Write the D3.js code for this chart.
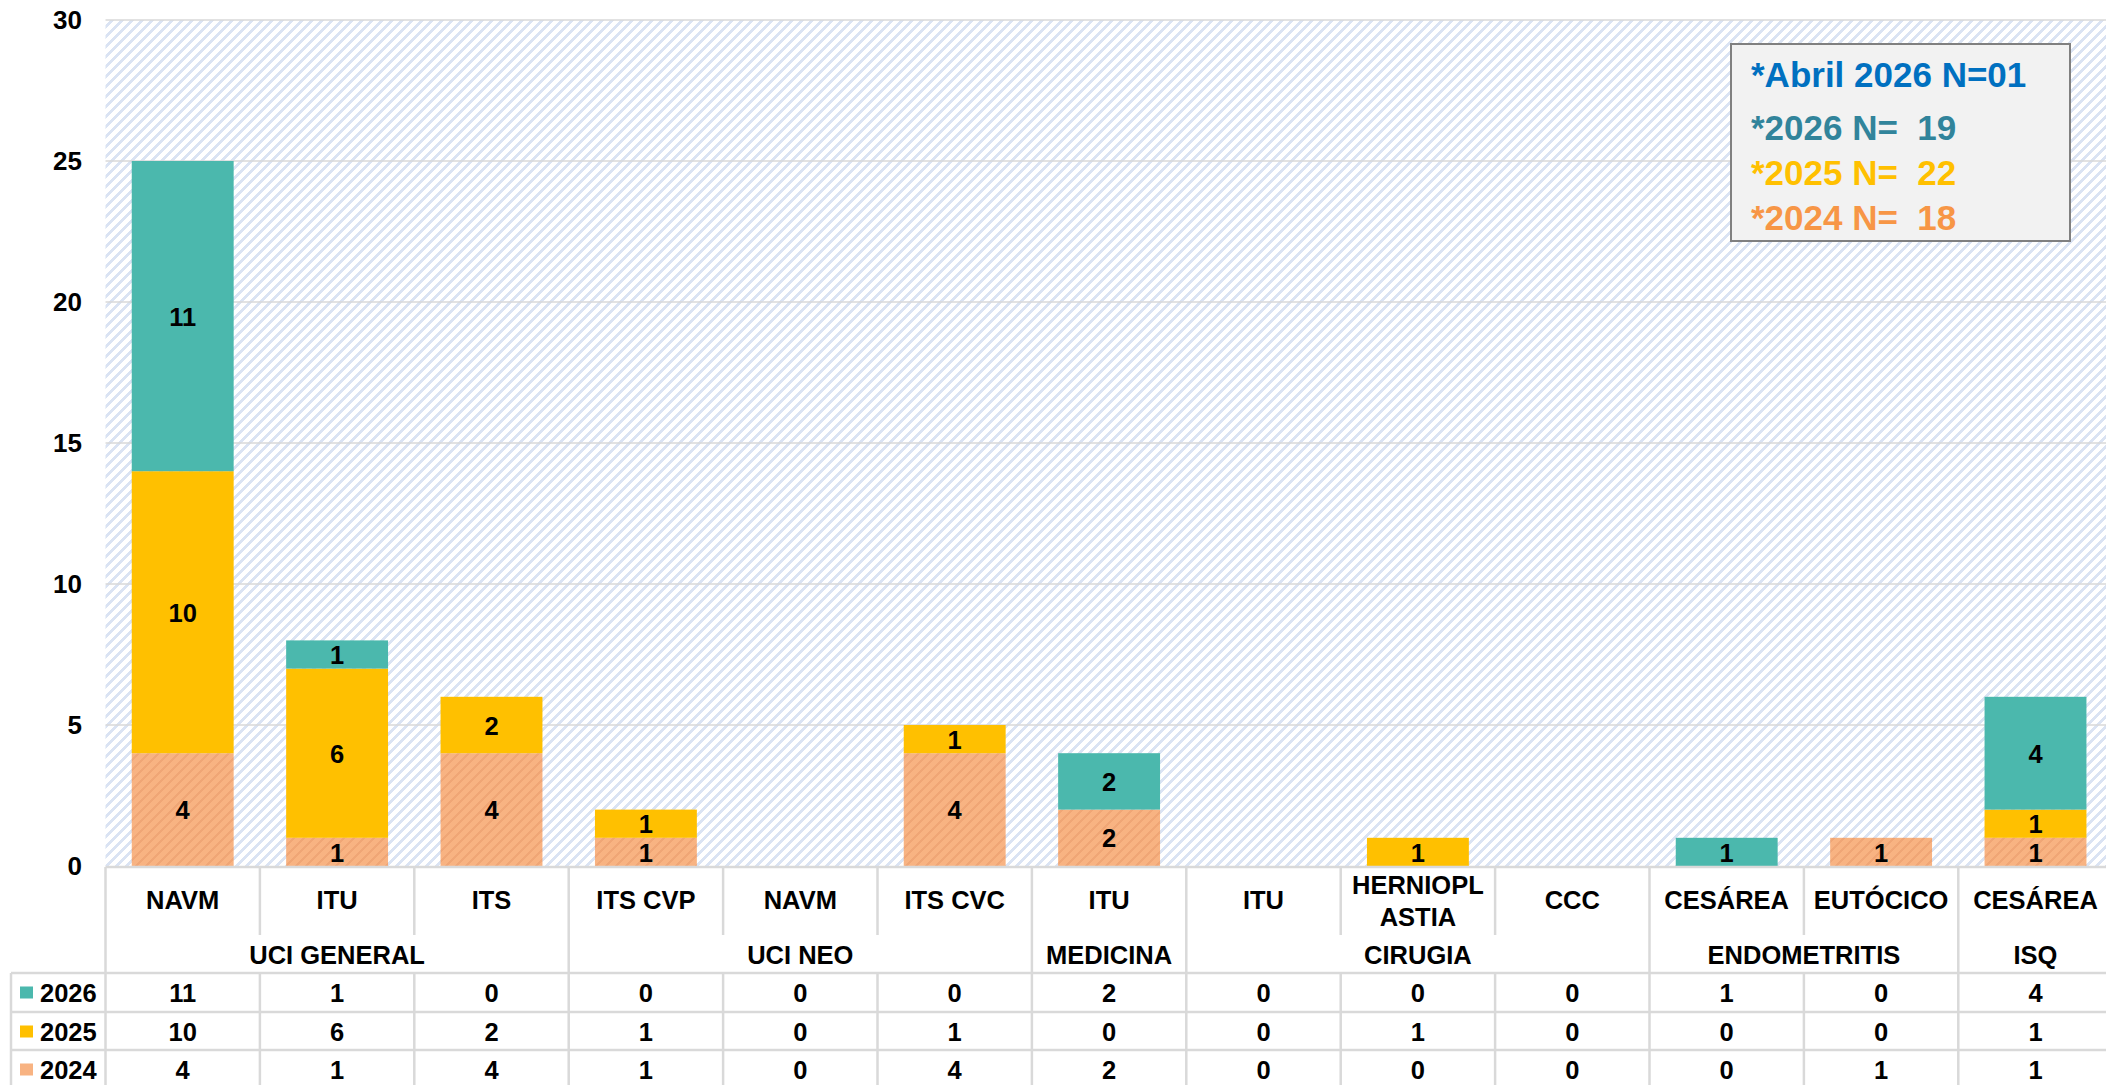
<!DOCTYPE html>
<html>
<head>
<meta charset="utf-8">
<script src="https://cdn.jsdelivr.net/npm/d3@7"></script>
<style>
    body { margin: 0; background: #fff; }
    text { font-family: "Liberation Sans", Arial, sans-serif; font-weight: bold; }
</style>
</head>
<body>
<div id="chart-area"></div>
<script>

// Data
var categories = ["NAVM", "ITU", "ITS", "ITS CVP", "NAVM", "ITS CVC", "ITU", "ITU",
    "HERNIOPLASTIA", "CCC", "CESÁREA", "EUTÓCICO", "CESÁREA"];
var groupNames = ["UCI GENERAL", "UCI NEO", "MEDICINA", "CIRUGIA", "ENDOMETRITIS", "ISQ"];
var groupSpans = [3, 3, 1, 3, 2, 1];
var years = ["2026", "2025", "2024"];
var v2026 = [11, 1, 0, 0, 0, 0, 2, 0, 0, 0, 1, 0, 4];
var v2025 = [10, 6, 2, 1, 0, 1, 0, 0, 1, 0, 0, 0, 1];
var v2024 = [4, 1, 4, 1, 0, 4, 2, 0, 0, 0, 0, 1, 1];
var yTicks = [0, 5, 10, 15, 20, 25, 30];
var noteLines = ["*Abril 2026 N=01", "*2026 N=  19", "*2025 N=  22", "*2024 N=  18"];

var colors = { "2026": "#4bb8ad", "2025": "#ffc000", "2024": "#f8b382" };
var noteColors = ["#0070c0", "#31849b", "#ffc000", "#f79646"];

var width = 2106, height = 1085;
var plot = { left: 105.5, right: 2112.7, top: 20, bottom: 866 };

var svg = d3.select("#chart-area")
    .append("svg")
        .attr("width", width)
        .attr("height", height);

var defs = svg.append("defs");

// pixel hatch tiles ("/" stripes)
function hatch(id, base, stripe, size, thick) {
    var p = defs.append("pattern")
        .attr("id", id)
        .attr("patternUnits", "userSpaceOnUse")
        .attr("width", size)
        .attr("height", size);
    p.append("rect").attr("width", size).attr("height", size).attr("fill", base);
    d3.range(size).forEach(function(r) {
        d3.range(thick).forEach(function(k) {
            p.append("rect")
                .attr("x", (size - r + k) % size)
                .attr("y", r)
                .attr("width", 1)
                .attr("height", 1)
                .attr("shape-rendering", "crispEdges")
                .attr("fill", stripe);
        });
    });
}
hatch("bgHatch", "#ffffff", "#dae3f3", 10, 4);
hatch("orHatch", colors["2024"], "#f0a676", 10, 3);

// X Scale
var x = d3.scaleBand()
    .domain(d3.range(categories.length))
    .range([plot.left, plot.right])
    .paddingInner(0.34)
    .paddingOuter(0.17);
var step = x.step();

// Y Scale
var y = d3.scaleLinear()
    .domain([0, 30])
    .range([plot.bottom, plot.top]);

svg.append("rect")
    .attr("x", plot.left)
    .attr("y", plot.top)
    .attr("width", plot.right - plot.left)
    .attr("height", plot.bottom - plot.top)
    .attr("fill", "url(#bgHatch)");

// Gridlines
svg.append("g").selectAll("line")
    .data(yTicks.filter(function(d) { return d > 0; }))
    .enter()
    .append("line")
        .attr("x1", plot.left)
        .attr("x2", plot.right)
        .attr("y1", function(d) { return y(d); })
        .attr("y2", function(d) { return y(d); })
        .attr("stroke", "#d9d9d9")
        .attr("stroke-width", 1.5);

// Y Axis
var yAxisCall = d3.axisLeft(y)
    .tickValues(yTicks)
    .tickSize(0)
    .tickPadding(0);
var yAxis = svg.append("g")
    .attr("class", "y axis")
    .attr("transform", "translate(82,0)")
    .call(yAxisCall);
yAxis.select(".domain").remove();
yAxis.selectAll("text")
    .attr("font-size", "26px")
    .attr("font-family", "'Liberation Sans', Arial, sans-serif")
    .attr("fill", "#000");

// Stack
var rows = categories.map(function(c, i) {
    return { i: i, "2026": v2026[i], "2025": v2025[i], "2024": v2024[i] };
});
var series = d3.stack().keys(["2024", "2025", "2026"])(rows);

var layers = svg.append("g").selectAll("g")
    .data(series)
    .enter()
    .append("g")
        .attr("fill", function(d) { return d.key == "2024" ? "url(#orHatch)" : colors[d.key]; });

layers.selectAll("rect")
    .data(function(d) { return d.filter(function(s) { return s[1] > s[0]; }); })
    .enter()
    .append("rect")
        .attr("x", function(d) { return x(d.data.i); })
        .attr("y", function(d) { return y(d[1]); })
        .attr("width", x.bandwidth())
        .attr("height", function(d) { return y(d[0]) - y(d[1]); });

layers.selectAll("text")
    .data(function(d) { return d.filter(function(s) { return s[1] > s[0]; }); })
    .enter()
    .append("text")
        .attr("x", function(d) { return x(d.data.i) + x.bandwidth() / 2; })
        .attr("y", function(d) { return (y(d[0]) + y(d[1])) / 2; })
        .attr("dy", "0.38em")
        .attr("text-anchor", "middle")
        .attr("font-size", "25.5px")
        .attr("fill", "#000")
        .text(function(d) { return d[1] - d[0]; });

// Note box
var note = svg.append("g");
note.append("rect")
    .attr("x", 1731)
    .attr("y", 44)
    .attr("width", 339)
    .attr("height", 197)
    .attr("fill", "#f2f2f2")
    .attr("stroke", "#808080")
    .attr("stroke-width", 2);
note.selectAll("text")
    .data(noteLines)
    .enter()
    .append("text")
        .attr("x", 1751)
        .attr("y", function(d, i) { return [87, 140, 185, 230][i]; })
        .attr("font-family", "'Noto Sans', 'Open Sans', sans-serif")
        .attr("font-size", "35px")
        .style("white-space", "pre")
        .attr("fill", function(d, i) { return noteColors[i]; })
        .text(function(d) { return d; });

// Data table
var tbl = svg.append("g");
var catTop = 867, grpTop = 935, rowTops = [973, 1012, 1050], tblBottom = 1090;
var lineColor = "#d9d9d9";
var fs = "25.5px";

function hline(x1, x2, yy) {
    tbl.append("line").attr("x1", x1).attr("x2", x2).attr("y1", yy).attr("y2", yy)
        .attr("stroke", lineColor).attr("stroke-width", 2.5);
}
function vline(xx, y1, y2) {
    tbl.append("line").attr("x1", xx).attr("x2", xx).attr("y1", y1).attr("y2", y2)
        .attr("stroke", lineColor).attr("stroke-width", 2.5);
}

hline(plot.left, plot.right, catTop);
rowTops.forEach(function(r) { hline(11, plot.right, r); });
vline(11, rowTops[0], tblBottom);
vline(plot.left, catTop, tblBottom);

// category boundaries
var groupEnds = d3.cumsum(groupSpans);
d3.range(1, categories.length).forEach(function(k) {
    var xx = plot.left + k * step;
    if (groupEnds.indexOf(k) >= 0) {
        vline(xx, catTop, tblBottom);
    } else {
        vline(xx, catTop, grpTop);
        vline(xx, rowTops[0], tblBottom);
    }
});

// category labels
categories.forEach(function(c, i) {
    var cx = x(i) + x.bandwidth() / 2;
    var t = tbl.append("text")
        .attr("x", cx)
        .attr("text-anchor", "middle")
        .attr("font-size", fs)
        .attr("fill", "#000");
    if (c.length > 9) {
        t.append("tspan").attr("x", cx).attr("y", 894).text(c.slice(0, 8));
        t.append("tspan").attr("x", cx).attr("y", 926).text(c.slice(8));
    } else {
        t.attr("y", 909).text(c);
    }
});

// group labels
var start = 0;
groupNames.forEach(function(g, k) {
    var mid = plot.left + (start + groupSpans[k] / 2) * step;
    tbl.append("text")
        .attr("x", mid)
        .attr("y", 964)
        .attr("text-anchor", "middle")
        .attr("font-size", fs)
        .attr("fill", "#000")
        .text(g);
    start += groupSpans[k];
});

// value rows
var rowValues = [v2026, v2025, v2024];
years.forEach(function(yr, r) {
    var cy = rowTops[r] + 19.5;
    tbl.append("rect")
        .attr("x", 20)
        .attr("y", cy - 6)
        .attr("width", 13)
        .attr("height", 12)
        .attr("fill", colors[yr]);
    tbl.append("text")
        .attr("x", 40)
        .attr("y", cy)
        .attr("dy", "0.36em")
        .attr("font-size", fs)
        .attr("fill", "#000")
        .text(yr);
    tbl.selectAll(null)
        .data(rowValues[r])
        .enter()
        .append("text")
            .attr("x", function(d, i) { return x(i) + x.bandwidth() / 2; })
            .attr("y", cy)
            .attr("dy", "0.36em")
            .attr("text-anchor", "middle")
            .attr("font-size", fs)
            .attr("fill", "#000")
            .text(function(d) { return d; });
});

</script>
</body>
</html>
